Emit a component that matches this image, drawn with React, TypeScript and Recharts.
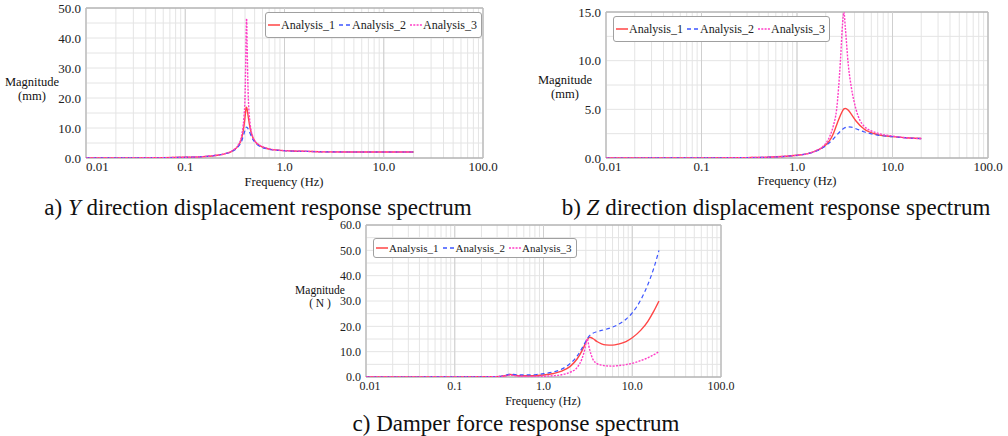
import React from 'react';
import { LineChart, Line, XAxis, YAxis, CartesianGrid, ReferenceLine, ReferenceArea, Legend } from 'recharts';

const FONT = '"Liberation Serif", "Times New Roman", serif';

const DECADES = [0.01, 0.1, 1, 10, 100];
const DECADE_LABELS = ['0.01', '0.1', '1.0', '10.0', '100.0'];
const MINOR_STEPS = [1, 2, 3, 4, 5, 6, 7, 8, 9];

const SERIES_NAMES = ['Analysis_1', 'Analysis_2', 'Analysis_3'];

// a) Y direction displacement (mm)
const FREQ_Y = [0.01, 0.03, 0.06, 0.1, 0.15, 0.2, 0.25, 0.3, 0.34, 0.37, 0.39, 0.4, 0.405, 0.41, 0.415, 0.42, 0.43, 0.45, 0.48, 0.52, 0.58, 0.65, 0.75, 0.9, 1.2, 1.7, 2.5, 5, 10, 20];
const Y_A1 = [0.02, 0.05, 0.1, 0.25, 0.45, 0.85, 1.4, 2.4, 4.0, 6.5, 10.5, 13.5, 15.3, 16.7, 16.9, 16.3, 14.0, 10.0, 6.8, 5.0, 3.9, 3.25, 2.8, 2.55, 2.35, 2.2, 2.05, 2.0, 2.0, 2.0];
const Y_A2 = [0.02, 0.05, 0.1, 0.25, 0.45, 0.85, 1.4, 2.3, 3.7, 5.6, 8.0, 9.2, 9.8, 10.2, 10.3, 10.2, 9.7, 8.2, 6.2, 4.7, 3.7, 3.15, 2.75, 2.5, 2.3, 2.2, 2.05, 2.0, 2.0, 2.0];
const Y_A3 = [0.02, 0.05, 0.1, 0.25, 0.45, 0.85, 1.4, 2.5, 4.2, 7.5, 13.5, 20, 29, 40, 46.5, 38, 22, 11.5, 7.0, 5.1, 4.0, 3.35, 2.85, 2.55, 2.35, 2.2, 2.05, 2.0, 2.0, 2.0];
const Y_TICKS = [0, 5, 10, 15, 20, 25, 30, 35, 40, 45, 50];

// b) Z direction displacement (mm)
const FREQ_Z = [0.01, 0.1, 0.3, 0.5, 0.7, 1.0, 1.3, 1.6, 1.9, 2.2, 2.4, 2.6, 2.85, 3.0, 3.1, 3.2, 3.45, 3.7, 4.15, 5, 7, 10, 15, 20];
const Z_A1 = [0, 0.01, 0.04, 0.08, 0.15, 0.28, 0.45, 0.75, 1.15, 1.8, 2.5, 3.4, 4.4, 4.85, 5.05, 5.1, 4.9, 4.5, 3.8, 3.0, 2.4, 2.2, 2.05, 2.0];
const Z_A2 = [0, 0.01, 0.04, 0.08, 0.15, 0.28, 0.45, 0.72, 1.1, 1.6, 1.95, 2.35, 2.75, 2.95, 3.05, 3.12, 3.2, 3.18, 3.0, 2.7, 2.35, 2.2, 2.05, 2.0];
const Z_A3 = [0, 0.01, 0.04, 0.08, 0.15, 0.28, 0.45, 0.78, 1.25, 2.2, 3.3, 5.0, 10.0, 13.8, 15.0, 13.5, 9.5, 7.3, 5.0, 3.3, 2.55, 2.25, 2.05, 2.0];
const Z_TICKS = [0, 2.5, 5, 7.5, 10, 12.5, 15];

// c) Damper force (N)
const FREQ_F = [0.01, 0.1, 0.25, 0.33, 0.38, 0.42, 0.46, 0.55, 0.7, 0.85, 1.0, 1.3, 1.6, 2.0, 2.4, 2.7, 2.9, 3.1, 3.3, 3.6, 4.0, 4.5, 5.0, 6.0, 7.0, 8.5, 10, 12.5, 15, 17.5, 20];
const F_A1 = [0, 0.02, 0.1, 0.25, 0.6, 1.0, 0.8, 0.5, 0.5, 0.6, 0.8, 1.4, 2.3, 4.2, 7.2, 10.2, 12.5, 14.6, 15.7, 15.2, 14.0, 13.1, 12.7, 12.6, 13.0, 14.0, 15.5, 18.5, 22, 26, 30];
const F_A2 = [0, 0.02, 0.1, 0.3, 0.7, 1.2, 1.0, 0.8, 0.8, 1.0, 1.3, 2.0, 3.1, 5.3, 8.3, 11.2, 13.2, 15.0, 16.3, 17.3, 17.9, 18.4, 18.8, 19.7, 20.8, 22.8, 25.3, 30.5, 36.5, 43, 50];
const F_A3 = [0, 0.01, 0.08, 0.2, 0.5, 0.8, 0.6, 0.3, 0.2, 0.25, 0.3, 0.5, 0.9, 1.9, 3.8, 7.0, 10.5, 15.0, 11.0, 7.0, 5.3, 4.7, 4.4, 4.3, 4.5, 4.9, 5.4, 6.5, 7.6, 8.8, 10];
const F_TICKS = [0, 5, 10, 15, 20, 25, 30, 35, 40, 45, 50, 55, 60];

const X_TICKS = DECADES.slice(0, 4)
  .flatMap((d) => MINOR_STEPS.map((m) => Number((d * m).toPrecision(3))))
  .concat([100]);

const LINE_STYLES = [
  { stroke: '#ff4545', width: 1.4, dash: undefined as string | undefined },
  { stroke: '#3d56ff', width: 1.2, dash: '4 3' },
  { stroke: '#ff3cc6', width: 1.4, dash: '2 1.3' },
];

function LegendBox({ fontSize, height, gap }: { fontSize: number; height: number; gap: number }) {
  return (
    <div
      style={{
        display: 'flex',
        alignItems: 'center',
        height,
        boxSizing: 'border-box',
        border: '1.5px solid #a0a0a0',
        borderRadius: 3,
        background: '#fff',
        padding: '0 4px 0 2px',
        fontFamily: FONT,
        fontSize,
        color: '#222',
        whiteSpace: 'nowrap',
      }}
    >
      {SERIES_NAMES.map((name, i) => (
        <span key={name} style={{ display: 'flex', alignItems: 'center', marginLeft: i === 0 ? 0 : gap }}>
          <svg width={12} height={6} style={{ marginRight: 1 }}>
            <line
              x1={0}
              y1={3}
              x2={12}
              y2={3}
              stroke={LINE_STYLES[i].stroke}
              strokeWidth={1.5}
              strokeDasharray={LINE_STYLES[i].dash}
            />
          </svg>
          <span>{name}</span>
        </span>
      ))}
    </div>
  );
}

type ChartCfg = {
  left: number;
  top: number;
  width: number;
  height: number;
  margin: { top: number; right: number; left: number; bottom: number };
  yAxisWidth: number;
  xAxisHeight: number;
  freq: number[];
  series: number[][];
  yTicks: number[];
  yMax: number;
  labelStep: number;
  tickFont: number;
  firstStart: boolean;
  firstDx: number;
  legend: { left: number; top: number; fontSize: number; height: number; gap: number };
};

function Spectrum({ cfg }: { cfg: ChartCfg }) {
  const data = cfg.freq.map((f, i) => ({
    f,
    a1: cfg.series[0][i],
    a2: cfg.series[1][i],
    a3: cfg.series[2][i],
  }));

  const xTick = (props: any) => {
    const { x, y, payload } = props;
    const idx = DECADES.indexOf(payload.value);
    if (idx < 0) return <g />;
    return (
      <text
        x={x + (idx === 0 ? cfg.firstDx : 0)}
        y={y}
        dy="0.71em"
        textAnchor={cfg.firstStart && idx === 0 ? 'start' : 'middle'}
        fontSize={cfg.tickFont}
        fontFamily={FONT}
        fill="#222"
      >
        {DECADE_LABELS[idx]}
      </text>
    );
  };

  const yTick = (props: any) => {
    const { x, y, payload } = props;
    const v = payload.value as number;
    if (v % cfg.labelStep !== 0) return <g />;
    return (
      <text x={x} y={y} dy="0.355em" textAnchor="end" fontSize={cfg.tickFont} fontFamily={FONT} fill="#222">
        {v.toFixed(1)}
      </text>
    );
  };

  return (
    <div style={{ position: 'absolute', left: cfg.left, top: cfg.top }}>
      <LineChart width={cfg.width} height={cfg.height} data={data} margin={cfg.margin}>
        <CartesianGrid stroke="#e4e4e4" strokeWidth={1} />
        {DECADES.map((d) => (
          <ReferenceLine key={d} x={d} stroke="#cfcfcf" strokeWidth={1} />
        ))}
        <XAxis
          dataKey="f"
          type="number"
          scale="log"
          domain={[0.01, 100]}
          allowDataOverflow
          ticks={X_TICKS}
          interval={0}
          height={cfg.xAxisHeight}
          axisLine={false}
          tickLine={false}
          tickSize={2}
          tickMargin={2}
          tick={xTick}
        />
        <YAxis
          type="number"
          domain={[0, cfg.yMax]}
          allowDataOverflow
          ticks={cfg.yTicks}
          interval={0}
          width={cfg.yAxisWidth}
          axisLine={false}
          tickLine={false}
          tickSize={3}
          tickMargin={2}
          tick={yTick}
        />
        <ReferenceArea x1={0.01} x2={100} y1={0} y2={cfg.yMax} fill="none" stroke="#9a9a9a" strokeWidth={1} />
        {['a1', 'a2', 'a3'].map((key, i) => (
          <Line
            key={key}
            type="monotone"
            dataKey={key}
            name={SERIES_NAMES[i]}
            stroke={LINE_STYLES[i].stroke}
            strokeWidth={LINE_STYLES[i].width}
            strokeDasharray={LINE_STYLES[i].dash}
            dot={false}
            activeDot={false}
            isAnimationActive={false}
          />
        ))}
        <Legend
          layout="horizontal"
          verticalAlign="middle"
          align="center"
          wrapperStyle={{ left: cfg.legend.left, top: cfg.legend.top, width: 'auto', height: 'auto' }}
          content={() => (
            <LegendBox fontSize={cfg.legend.fontSize} height={cfg.legend.height} gap={cfg.legend.gap} />
          )}
        />
      </LineChart>
    </div>
  );
}

const CHART_A: ChartCfg = {
  left: 0,
  top: 0,
  width: 500,
  height: 190,
  margin: { top: 8, right: 17, left: 0, bottom: 0 },
  yAxisWidth: 86,
  xAxisHeight: 32,
  freq: FREQ_Y,
  series: [Y_A1, Y_A2, Y_A3],
  yTicks: Y_TICKS,
  yMax: 50,
  labelStep: 10,
  tickFont: 13,
  firstStart: true,
  firstDx: 0,
  legend: { left: 265, top: 12, fontSize: 12, height: 26, gap: 4 },
};

const CHART_B: ChartCfg = {
  left: 500,
  top: 0,
  width: 508,
  height: 190,
  margin: { top: 12, right: 20, left: 0, bottom: 0 },
  yAxisWidth: 106,
  xAxisHeight: 32,
  freq: FREQ_Z,
  series: [Z_A1, Z_A2, Z_A3],
  yTicks: Z_TICKS,
  yMax: 15,
  labelStep: 5,
  tickFont: 13,
  firstStart: false,
  firstDx: 4,
  legend: { left: 113, top: 16, fontSize: 12, height: 26, gap: 4 },
};

const CHART_C: ChartCfg = {
  left: 290,
  top: 210,
  width: 460,
  height: 200,
  margin: { top: 15, right: 29, left: 0, bottom: 0 },
  yAxisWidth: 76,
  xAxisHeight: 33,
  freq: FREQ_F,
  series: [F_A1, F_A2, F_A3],
  yTicks: F_TICKS,
  yMax: 60,
  labelStep: 10,
  tickFont: 12,
  firstStart: false,
  firstDx: 4,
  legend: { left: 83, top: 28, fontSize: 11, height: 20, gap: 4 },
};

function Txt({ x, y, size, children }: { x: number; y: number; size: number; children: React.ReactNode }) {
  return (
    <div
      style={{
        position: 'absolute',
        left: x,
        top: y,
        transform: 'translate(-50%, -50%)',
        fontFamily: FONT,
        fontSize: size,
        lineHeight: 1,
        whiteSpace: 'nowrap',
        color: '#111',
      }}
    >
      {children}
    </div>
  );
}

export default function App() {
  return (
    <div style={{ position: 'relative', width: 1008, height: 436, background: '#fff', overflow: 'hidden' }}>
      <style>{'body{margin:0;}'}</style>
      <Spectrum cfg={CHART_A} />
      <Spectrum cfg={CHART_B} />
      <Spectrum cfg={CHART_C} />

      <Txt x={32} y={82} size={12.5}>Magnitude</Txt>
      <Txt x={32} y={96} size={12.5}>(mm)</Txt>
      <Txt x={284} y={182} size={12.5}>Frequency (Hz)</Txt>

      <Txt x={565} y={80} size={12.5}>Magnitude</Txt>
      <Txt x={565} y={94} size={12.5}>(mm)</Txt>
      <Txt x={797} y={181} size={12.5}>Frequency (Hz)</Txt>

      <Txt x={320} y={291} size={11.5}>Magnitude</Txt>
      <Txt x={320} y={304} size={11.5}>( N )</Txt>
      <Txt x={543} y={401} size={12}>Frequency (Hz)</Txt>

      <Txt x={258} y={207} size={23}>
        a) <i>Y</i> direction displacement response spectrum
      </Txt>
      <Txt x={776} y={207} size={23}>
        b) <i>Z</i> direction displacement response spectrum
      </Txt>
      <Txt x={516} y={423} size={23}>
        c) Damper force response spectrum
      </Txt>
    </div>
  );
}
